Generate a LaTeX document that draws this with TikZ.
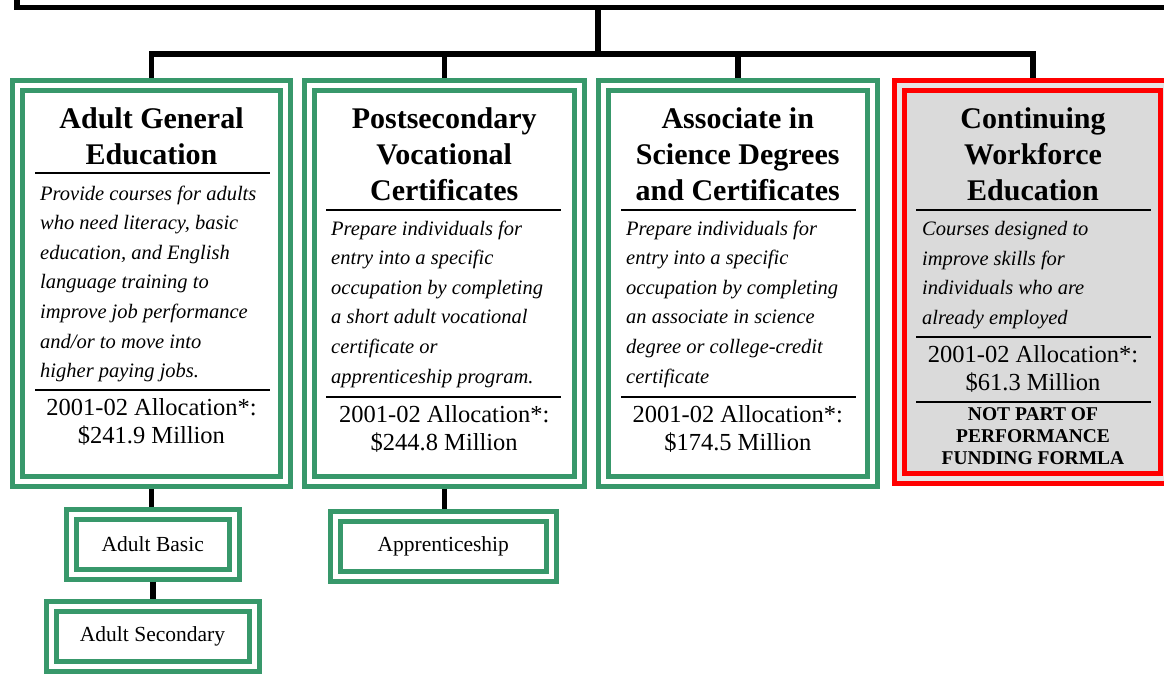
\documentclass[tikz,border=0pt]{standalone}
\usepackage{fontspec}
\setmainfont{Liberation Serif}
\usetikzlibrary{positioning}
\definecolor{frmgreen}{RGB}{56,152,107}
\definecolor{frmred}{RGB}{255,0,0}
\definecolor{shade}{RGB}{218,218,218}

\begin{document}
\begin{tikzpicture}[x=1pt,y=-1pt,
  wire/.style={line width=5.5pt},
  rule/.style={line width=2.5pt},
  frame/.style={draw=frmgreen,line width=5pt,double=white,double distance=5pt,
    inner sep=0pt,outer sep=7.5pt},
  redframe/.style={frame,draw=frmred,double=shade!70!white,fill=shade},
  ttl/.style={inner sep=0pt,align=center,font=\fontsize{30}{36}\selectfont\bfseries},
  desc/.style={inner sep=0pt,align=left,font=\fontsize{20.5}{29.6}\selectfont\itshape},
  alloc/.style={inner sep=0pt,align=center,font=\fontsize{24.5}{28}\selectfont},
  note/.style={inner sep=0pt,align=center,font=\fontsize{19.5}{22}\selectfont\bfseries},
  small/.style={frame,font=\fontsize{21.5}{24}\selectfont}]
\useasboundingbox (0,0) rectangle (1164,673);
\clip (0,0) rectangle (1164,673);

\node[draw,line width=5.5pt,outer sep=0pt,minimum width=1162pt,minimum height=75pt] (root) at (598,-30) {};
\coordinate (bus) at (598,54);

\node[frame,minimum width=268pt,minimum height=395.5pt] (age) at (151.5,283.25) {};
\node[frame,minimum width=269.5pt,minimum height=395.5pt] (pvc) at (444.25,283.25) {};
\node[frame,minimum width=269.5pt,minimum height=395.5pt] (asd) at (737.75,283.25) {};
\node[redframe,minimum width=266pt,minimum height=392.75pt] (cwe) at (1032.75,282.1) {};

\node[small,minimum width=163.5pt,minimum height=60pt] (basic) at (152.75,544) {Adult Basic};
\node[small,minimum width=203pt,minimum height=60pt] (second) at (152.5,636) {Adult Secondary};
\node[small,minimum width=215.5pt,minimum height=60pt] (appr) at (443.25,546) {Apprenticeship};

\draw[wire] (root.south) -- (bus);
\draw[wire] (age.north) |- (bus) -| (cwe.north);
\draw[wire] (pvc.north) -- (pvc.north |- bus);
\draw[wire] (asd.north) -- (asd.north |- bus);
\draw[wire] (age.south) -- (age.south |- basic.north);
\draw[wire] (basic.south) -- (basic.south |- second.north);
\draw[wire] (pvc.south) -- (pvc.south |- appr.north);

\node[ttl,anchor=base] (agettl) at (151.5,164) {Adult General\\Education};
\draw[rule] (35,173) -- (270,173);
\node[desc,anchor=base west] (agedesc) at (40,377.6) {Provide courses for adults\\who need literacy, basic\\education, and English\\language training to\\improve job performance\\and/or to move into\\higher paying jobs.};
\draw[rule] (35,390) -- (270,390);
\node[alloc,anchor=base] (agealloc) at (151.5,443) {2001-02 Allocation*:\\\$241.9 Million};

\node[ttl,anchor=base] (pvcttl) at (444.25,200) {Postsecondary\\Vocational\\Certificates};
\draw[rule] (326,210) -- (561,210);
\node[desc,anchor=base west] (pvcdesc) at (331,383) {Prepare individuals for\\entry into a specific\\occupation by completing\\a short adult vocational\\certificate or\\apprenticeship program.};
\draw[rule] (326,397) -- (561,397);
\node[alloc,anchor=base] (pvcalloc) at (444.25,450) {2001-02 Allocation*:\\\$244.8 Million};

\node[ttl,anchor=base] (asdttl) at (737.75,200) {Associate in\\Science Degrees\\and Certificates};
\draw[rule] (621,210) -- (856,210);
\node[desc,anchor=base west] (asddesc) at (626,383) {Prepare individuals for\\entry into a specific\\occupation by completing\\an associate in science\\degree or college-credit\\certificate};
\draw[rule] (621,397) -- (856,397);
\node[alloc,anchor=base] (asdalloc) at (737.75,450) {2001-02 Allocation*:\\\$174.5 Million};

\node[ttl,anchor=base] (cwettl) at (1033,200) {Continuing\\Workforce\\Education};
\draw[rule] (916,210) -- (1151,210);
\node[desc,anchor=base west] (cwedesc) at (922,324.5) {Courses designed to\\improve skills for\\individuals who are\\already employed};
\draw[rule] (916,337) -- (1151,337);
\node[alloc,anchor=base] (cwealloc) at (1033,390) {2001-02 Allocation*:\\\$61.3 Million};
\draw[rule] (916,402) -- (1151,402);
\node[note,anchor=base] (cwenote) at (1033,464) {NOT PART OF\\PERFORMANCE\\FUNDING FORMLA};
\end{tikzpicture}
\end{document}
